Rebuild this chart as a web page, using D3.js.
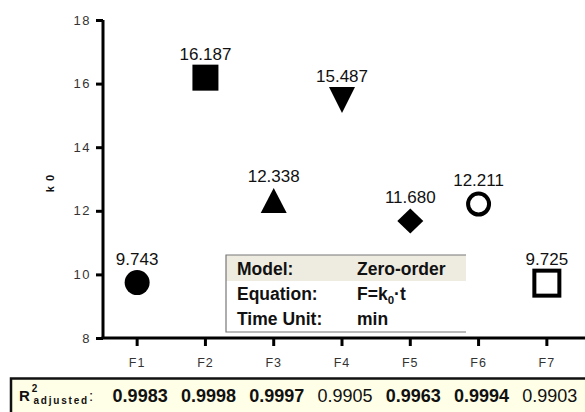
<!DOCTYPE html>
<html>
<head>
<meta charset="utf-8">
<script src="https://cdn.jsdelivr.net/npm/d3@7"></script>
<style>
  html, body { margin: 0; padding: 0; background: #fff; }
  svg { display: block; font-family: "Liberation Sans", Arial, sans-serif; }
</style>
</head>
<body>
<svg id="chart" width="585" height="412"></svg>
<script>
// Formulations and their zero-order rate constants
const formulations = ["F1", "F2", "F3", "F4", "F5", "F6", "F7"];
const k0Values = [9.743, 16.187, 12.338, 15.487, 11.680, 12.211, 9.725];
const markerShapes = ["circle", "square", "triangleUp", "triangleDown", "diamond", "circleOpen", "squareOpen"];
// Adjusted R² per formulation, and which ones are emphasised
const r2Values = ["0.9983", "0.9998", "0.9997", "0.9905", "0.9963", "0.9994", "0.9903"];
const r2Bold = [true, true, true, false, true, true, false];
const yTicks = [8, 10, 12, 14, 16, 18];
// Model summary table rows
const modelRows = [["Model:", "Zero-order"], ["Equation:", "F=k0·t"], ["Time Unit:", "min"]];

const svg = d3.select("#chart");

const x = d3.scaleBand().domain(formulations).range([103, 581]);
const y = d3.scaleLinear().domain([8, 18]).range([338, 20]);
const cx = d => x(d) + x.bandwidth() / 2;

// Model summary box
const box = svg.append("g");
const bx0 = 226, bx1 = 466, by0 = 255, rowH = 26;
box.append("rect").attr("x", bx0).attr("y", by0).attr("width", bx1 - bx0).attr("height", rowH)
  .attr("fill", "#eeece1");
box.append("path")
  .attr("d", `M${bx1},${by0}H${bx0}V${by0 + 77}H${bx1}`)
  .attr("fill", "none").attr("stroke", "#777").attr("stroke-width", 1.2);
modelRows.forEach((row, i) => {
  const by = by0 + 20 + i * 25;
  box.append("text").attr("x", 237).attr("y", by).attr("font-size", 17.5).attr("font-weight", "bold")
    .attr("fill", "#111").text(row[0]);
  const t = box.append("text").attr("x", 357).attr("y", by).attr("font-size", 17.5).attr("font-weight", "bold")
    .attr("fill", "#111");
  if (row[1] === "F=k0·t") {
    t.append("tspan").text("F=k");
    t.append("tspan").attr("font-size", 11.5).attr("dy", 4).text("0");
    t.append("tspan").attr("dy", -4).text("·t");
  } else {
    t.text(row[1]);
  }
});

// Y axis
const yAxis = d3.axisLeft(y).tickValues(yTicks).tickSize(7).tickPadding(5);
const gy = svg.append("g").attr("transform", "translate(103,0)").call(yAxis);
gy.select(".domain").attr("stroke", "#000").attr("stroke-width", 3).attr("d", "M0,20V338");
gy.selectAll(".tick line").attr("stroke", "#000").attr("stroke-width", 3);
gy.selectAll(".tick text").attr("font-size", 13).attr("fill", "#333")
  .attr("letter-spacing", "1.5px").attr("font-family", "Liberation Sans, Arial, sans-serif");

// X axis
const xAxis = d3.axisBottom(x).tickSize(8).tickPadding(12);
const gx = svg.append("g").attr("transform", "translate(0,338)").call(xAxis);
gx.select(".domain").attr("stroke", "#000").attr("stroke-width", 3).attr("d", "M101.5,0H585");
gx.selectAll(".tick line").attr("stroke", "#000").attr("stroke-width", 3);
gx.selectAll(".tick text").attr("font-size", 12.5).attr("fill", "#333")
  .attr("letter-spacing", "1px").attr("font-family", "Liberation Sans, Arial, sans-serif");

// Y axis title
svg.append("text").attr("transform", "translate(54,183) rotate(-90)")
  .attr("text-anchor", "middle").attr("font-size", 11).attr("font-weight", "bold")
  .attr("letter-spacing", "1px").attr("fill", "#111").text("k 0");

// Markers
const marks = svg.append("g");
const S = 13; // half marker size
formulations.forEach((f, i) => {
  const px = cx(f), py = y(k0Values[i]);
  const shape = markerShapes[i];
  if (shape === "circle") {
    marks.append("circle").attr("cx", px).attr("cy", py).attr("r", 12.5).attr("fill", "#000");
  } else if (shape === "square") {
    marks.append("rect").attr("x", px - S).attr("y", py - S).attr("width", 2 * S).attr("height", 2 * S).attr("fill", "#000");
  } else if (shape === "triangleUp") {
    marks.append("path").attr("d", `M${px},${py - 12}L${px + 13},${py + 13}L${px - 13},${py + 13}Z`).attr("fill", "#000");
  } else if (shape === "triangleDown") {
    marks.append("path").attr("d", `M${px - 13},${py - 13}L${px + 13},${py - 13}L${px},${py + 13}Z`).attr("fill", "#000");
  } else if (shape === "diamond") {
    marks.append("path").attr("d", `M${px},${py - 12.5}L${px + 13},${py}L${px},${py + 12.5}L${px - 13},${py}Z`).attr("fill", "#000");
  } else if (shape === "circleOpen") {
    marks.append("circle").attr("cx", px).attr("cy", py).attr("r", 10.5).attr("fill", "#fff")
      .attr("stroke", "#000").attr("stroke-width", 4);
  } else if (shape === "squareOpen") {
    marks.append("rect").attr("x", px - 12.5).attr("y", py - 12.5).attr("width", 25).attr("height", 25)
      .attr("fill", "#fff").attr("stroke", "#000").attr("stroke-width", 4);
  }
  marks.append("text").attr("x", px).attr("y", py - 18).attr("text-anchor", "middle")
    .attr("font-size", 17).attr("fill", "#111").text(k0Values[i].toFixed(3));
});

// Adjusted R² strip
const strip = svg.append("g");
strip.append("rect").attr("x", 11).attr("y", 378.5).attr("width", 580).attr("height", 40)
  .attr("fill", "#fffee6").attr("stroke", "#111").attr("stroke-width", 2.5);
const lbl = strip.append("text").attr("x", 19).attr("y", 401).attr("fill", "#111")
  .attr("font-family", "Liberation Sans, Arial, sans-serif");
lbl.append("tspan").attr("font-size", 15).attr("font-weight", "bold").text("R");
lbl.append("tspan").attr("font-size", 10).attr("font-weight", "bold").attr("dy", -9).attr("dx", 2).text("2");
lbl.append("tspan").attr("font-size", 10).attr("font-weight", "bold").attr("dy", 12).attr("dx", -4)
  .attr("letter-spacing", "1.8px").text("adjusted");
lbl.append("tspan").attr("font-size", 15).attr("dy", -3).text(":");
formulations.forEach((f, i) => {
  strip.append("text").attr("x", cx(f) + 3).attr("y", 402).attr("text-anchor", "middle")
    .attr("font-size", 18).attr("font-weight", r2Bold[i] ? "bold" : "normal")
    .attr("fill", "#111").text(r2Values[i]);
});
</script>
</body>
</html>
